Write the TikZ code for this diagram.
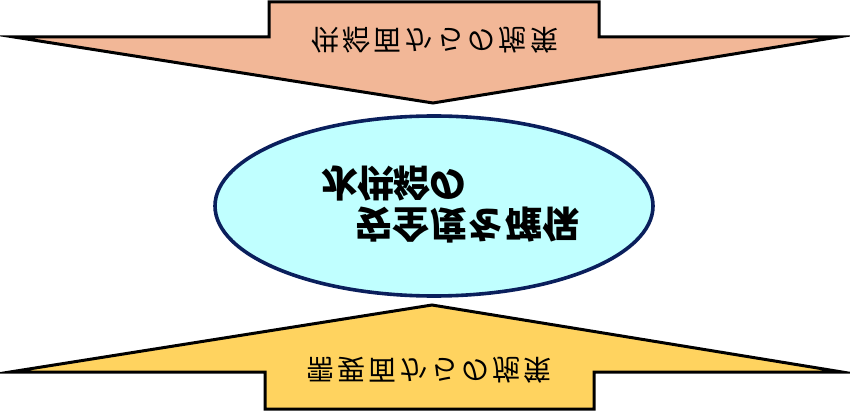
\documentclass[tikz,border=0pt]{standalone}
\usepackage{fontspec}
\usepackage{graphicx}
\usetikzlibrary{shapes.geometric}
\newfontfamily\jp{Noto Sans CJK JP}
\newcommand\vflip[1]{\scalebox{1}[-1]{#1}}
\definecolor{salmonfill}{HTML}{F2B797}
\definecolor{goldfill}{HTML}{FFD35F}
\definecolor{cyanfill}{HTML}{C0FFFF}
\definecolor{navyline}{HTML}{0A1F5C}
\tikzset{
  arrowshape/.style={draw=black, line width=3pt, line join=miter, miter limit=20},
  arrowchar/.style={font=\jp\fontsize{28pt}{30pt}\selectfont, inner sep=0pt},
  goalchar/.style={font=\jp\bfseries\fontsize{37pt}{40pt}\selectfont, inner sep=0pt},
  goalshape/.style={ellipse, draw=navyline, fill=cyanfill, line width=3.6pt,
    minimum width=438pt, minimum height=180pt, inner sep=0pt}
}
\begin{document}
\begin{tikzpicture}[x=1pt,y=-1pt]
\useasboundingbox (0,0) rectangle (850,419);
% top arrow (supply side), pointing down
\draw[arrowshape, fill=salmonfill]
  (269,2) -- (599,2) -- (599,37) -- (838,37) -- (433,103) -- (14,37) -- (269,37) -- cycle;
\foreach \c [count=\i] in {供,給,面,か,ら,の,施,策}
  \node[arrowchar] (top\i) at ({325+(\i-1)*31.3},40) {\vflip{\c}};
% bottom arrow (demand side), pointing up
\draw[arrowshape, fill=goldfill]
  (432,305) -- (842,372) -- (594,372) -- (594,409) -- (265,409) -- (265,372) -- (10,372) -- cycle;
\foreach \c [count=\i] in {需,要,面,か,ら,の,施,策}
  \node[arrowchar] (bot\i) at ({320+(\i-1)*31},370) {\vflip{\c}};
% central ellipse
\node[goalshape] (goal) at (434,206) {};
\foreach \c [count=\i] in {水,供,給,の}
  \node[goalchar] (ga\i) at ({340+(\i-1)*36},184) {\vflip{\c}};
\foreach \c [count=\i] in {安,全,度,を,確,保}
  \node[goalchar] (gb\i) at ({374+(\i-1)*37.4},225) {\vflip{\c}};
\end{tikzpicture}
\end{document}
